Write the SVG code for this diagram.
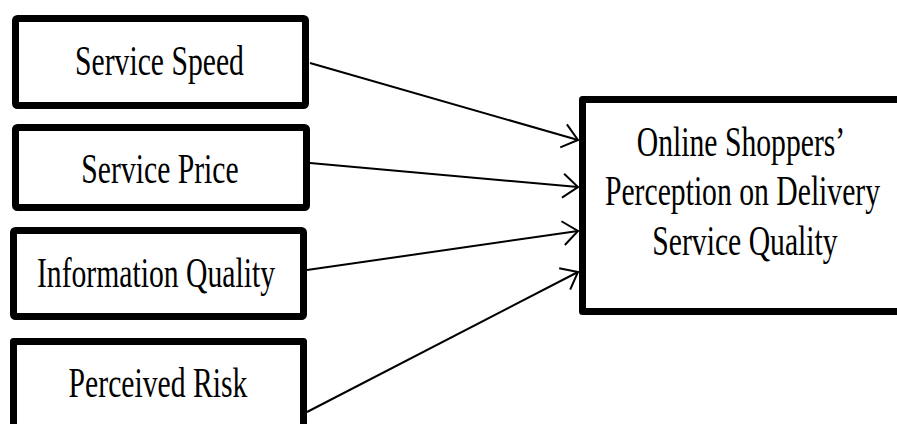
<svg xmlns="http://www.w3.org/2000/svg" width="897" height="424" viewBox="0 0 897 424">
<style>
.box{fill:#fff;stroke:#000;stroke-width:7}
.open{fill:none;stroke:#000;stroke-width:7;stroke-linejoin:round}
.t{font-family:"Liberation Serif","Times New Roman",serif;font-size:43px;fill:#000;text-anchor:middle}
.c{stroke:#000;stroke-width:2;fill:none}
</style>
<defs>
<marker id="ah" markerUnits="userSpaceOnUse" markerWidth="20" markerHeight="28" refX="17" refY="14" orient="auto">
<path d="M2,2 L17,14 L2,26" fill="none" stroke="#000" stroke-width="2"/>
</marker>
</defs>
<rect width="897" height="424" fill="#fff"/>
<g id="n1"><rect class="box" x="15.5" y="18.5" width="290" height="87" rx="2"/><text class="t" transform="translate(159.5,75) scale(0.69,1)">Service Speed</text></g>
<g id="n2"><rect class="box" x="15.5" y="127.5" width="291" height="80" rx="2"/><text class="t" transform="translate(160,183) scale(0.69,1)">Service Price</text></g>
<g id="n3"><rect class="box" x="13.5" y="230.5" width="290" height="86" rx="2"/><text class="t" transform="translate(156,287) scale(0.69,1)">Information Quality</text></g>
<g id="n4"><path class="open" d="M13.5,424 V341.5 H303.5 V424"/><text class="t" transform="translate(158,397) scale(0.69,1)">Perceived Risk</text></g>
<g id="n5"><path class="open" d="M897,99.5 H582.5 V311.5 H897"/>
<text class="t" transform="translate(741,156) scale(0.69,1)">Online Shoppers’</text>
<text class="t" transform="translate(742.5,205) scale(0.69,1)">Perception on Delivery</text>
<text class="t" transform="translate(745,255) scale(0.69,1)">Service Quality</text>
</g>
<g id="connectors">
<line class="c" x1="310" y1="63" x2="578" y2="140" marker-end="url(#ah)"/>
<line class="c" x1="310" y1="163" x2="578" y2="187" marker-end="url(#ah)"/>
<line class="c" x1="307" y1="270" x2="578" y2="231" marker-end="url(#ah)"/>
<line class="c" x1="307" y1="412" x2="578" y2="272" marker-end="url(#ah)"/>
</g>
</svg>
